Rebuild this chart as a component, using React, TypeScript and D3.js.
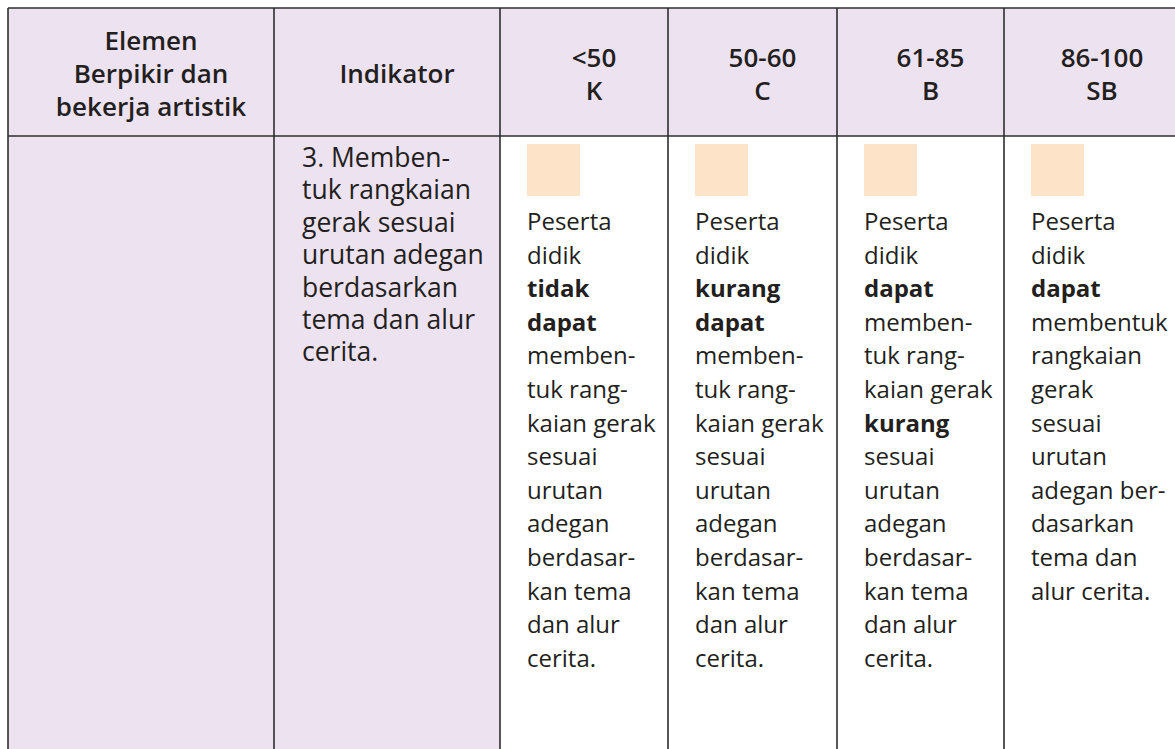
import * as d3 from "d3";

// header labels
const elemenHeader = ["Elemen", "Berpikir dan", "bekerja artistik"];
const indikatorHeader = ["Indikator"];
const scoreRanges = ["<50", "50-60", "61-85", "86-100"];
const scoreCodes = ["K", "C", "B", "SB"];

// body text, "*" marks a bold line
const indikatorLines = [
  "3. Memben-",
  "tuk rangkaian",
  "gerak sesuai",
  "urutan adegan",
  "berdasarkan",
  "tema dan alur",
  "cerita.",
];

const descK = ["Peserta", "didik", "*tidak", "*dapat", "memben-", "tuk rang-", "kaian gerak", "sesuai", "urutan", "adegan", "berdasar-", "kan tema", "dan alur", "cerita."];
const descC = ["Peserta", "didik", "*kurang", "*dapat", "memben-", "tuk rang-", "kaian gerak", "sesuai", "urutan", "adegan", "berdasar-", "kan tema", "dan alur", "cerita."];
const descB = ["Peserta", "didik", "*dapat", "memben-", "tuk rang-", "kaian gerak", "*kurang", "sesuai", "urutan", "adegan", "berdasar-", "kan tema", "dan alur", "cerita."];
const descSB = ["Peserta", "didik", "*dapat", "membentuk", "rangkaian", "gerak", "sesuai", "urutan", "adegan ber-", "dasarkan", "tema dan", "alur cerita."];
const descriptions = [descK, descC, descB, descSB];

// layout
const W = 1175;
const H = 749;
const colWidths = [266, 226, 168, 169, 167, 176];
const colEdges = [8, ...d3.cumsum(colWidths).map((v) => v + 8)];
const headerTop = 8;
const headerBottom = 136;
const headerShift = 10;
const lavender = "#ece2f0";
const peach = "#fde4c9";
const ink = "#231f20";
const font = "'Open Sans', 'Noto Sans', sans-serif";

export default function App() {
  const x = (i: number) => colEdges[i];
  const cx = (i: number) => (colEdges[i] + colEdges[i + 1]) / 2 + headerShift;
  const hLine = d3.scaleLinear().domain([0, 1]).range([0, 33]);
  const bLine = d3.scaleLinear().domain([0, 1]).range([230, 263.6]);
  const iLine = d3.scaleLinear().domain([0, 1]).range([167, 199.4]);

  const headerCell = (lines: string[], i: number) => {
    const base = 83 - hLine(lines.length - 1) / 2;
    return lines.map((t, k) => (
      <text key={`h${i}-${k}`} x={cx(i)} y={base + hLine(k)} textAnchor="middle"
        fontWeight={600} fontSize={26} fill={ink}>{t}</text>
    ));
  };

  return (
    <svg width={W} height={H} style={{ position: "absolute", left: 0, top: 0, display: "block" }}
      fontFamily={font}>
      <rect x={0} y={0} width={W} height={H} fill="#fff" />
      {/* header band */}
      <rect x={x(0)} y={headerTop} width={W} height={headerBottom - headerTop} fill={lavender} />
      {/* lavender body columns */}
      <rect x={x(0)} y={headerBottom} width={x(2) - x(0)} height={H} fill={lavender} />

      {headerCell(elemenHeader, 0)}
      {headerCell(indikatorHeader, 1)}
      {scoreRanges.map((r, i) => headerCell([r, scoreCodes[i]], i + 2))}

      {indikatorLines.map((t, k) => (
        <text key={`ind${k}`} x={x(1) + 28} y={iLine(k)} fontSize={26.5} fill={ink}>{t}</text>
      ))}

      {descriptions.map((lines, c) => (
        <g key={`d${c}`}>
          <rect x={x(c + 2) + 27} y={144} width={53} height={52} fill={peach} />
          {lines.map((t, k) => {
            const bold = t.startsWith("*");
            return (
              <text key={k} x={x(c + 2) + 27} y={bLine(k)} fontSize={24} fill={ink}
                fontWeight={bold ? 700 : 400}>{bold ? t.slice(1) : t}</text>
            );
          })}
        </g>
      ))}

      {/* grid lines */}
      <line x1={x(0)} x2={W} y1={headerTop} y2={headerTop} stroke="#2e2e2e" strokeWidth={1.6} />
      <line x1={x(0)} x2={W} y1={headerBottom} y2={headerBottom} stroke="#2e2e2e" strokeWidth={1.6} />
      {colEdges.slice(0, 6).map((e, i) => (
        <line key={`v${i}`} x1={e} x2={e} y1={headerTop} y2={H} stroke="#2e2e2e" strokeWidth={1.6} />
      ))}
    </svg>
  );
}
